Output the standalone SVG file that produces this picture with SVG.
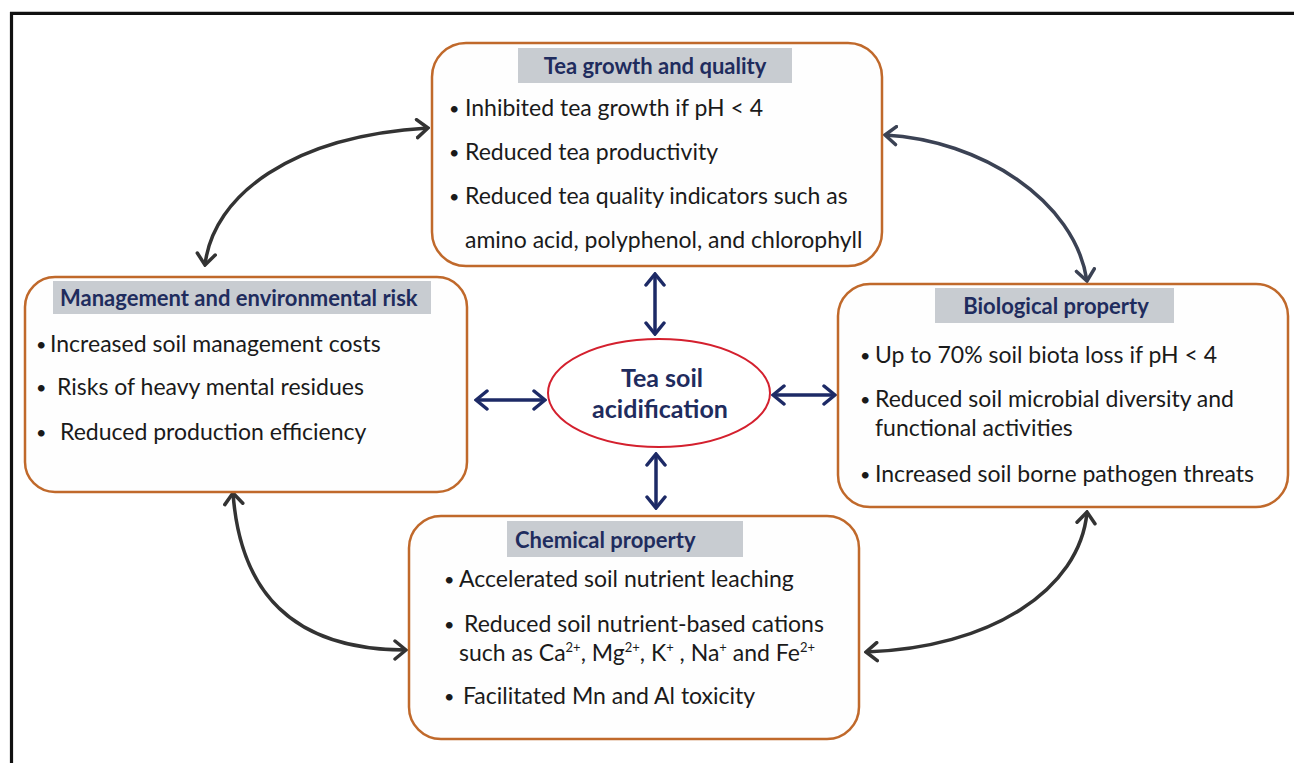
<svg xmlns="http://www.w3.org/2000/svg" width="1294" height="763" viewBox="0 0 1294 763">
  <style>
    .box { fill: #fefefe; stroke: #c0692b; stroke-width: 2.5; }
    .banner { fill: #c8ccd1; }
    .title { font-family: Lato, "Open Sans", sans-serif; font-weight: bold; font-size: 22px; fill: #1f2c5e; }
    .body { font-family: Lato, "Open Sans", sans-serif; font-size: 23px; fill: #1a1a1a; }
    .dot { font-family: Lato, "Open Sans", sans-serif; font-size: 18px; fill: #1a1a1a; }
    .center { font-family: Lato, "Open Sans", sans-serif; font-weight: bold; font-size: 25px; fill: #1f2c5e; text-anchor: middle; }
    .sup { font-size: 13px; }
    .curve { fill: none; stroke: #333333; stroke-width: 3.5; marker-start: url(#headGray); marker-end: url(#headGray); }
    .curve2 { fill: none; stroke: #3b4254; stroke-width: 3.5; marker-start: url(#headSlate); marker-end: url(#headSlate); }
    .link { fill: none; stroke: #1d2a66; stroke-width: 3.5; marker-start: url(#headBlue); marker-end: url(#headBlue); }
  </style>
  <defs>
    <marker id="headGray" markerUnits="userSpaceOnUse" viewBox="-13 -11 15 22" refX="0" refY="0" markerWidth="15" markerHeight="22" orient="auto-start-reverse">
      <path d="M-11,-9 L0,0 L-11,9" fill="none" stroke="#333333" stroke-width="3.5" stroke-linecap="round"/>
    </marker>
    <marker id="headSlate" markerUnits="userSpaceOnUse" viewBox="-13 -11 15 22" refX="0" refY="0" markerWidth="15" markerHeight="22" orient="auto-start-reverse">
      <path d="M-11,-9 L0,0 L-11,9" fill="none" stroke="#3b4254" stroke-width="3.5" stroke-linecap="round"/>
    </marker>
    <marker id="headBlue" markerUnits="userSpaceOnUse" viewBox="-13 -11 15 22" refX="0" refY="0" markerWidth="15" markerHeight="22" orient="auto-start-reverse">
      <path d="M-11,-9 L0,0 L-11,9" fill="none" stroke="#1d2a66" stroke-width="3.5" stroke-linecap="round"/>
    </marker>
  </defs>

  <rect width="1294" height="763" fill="#ffffff"/>
  <!-- outer frame, runs off the right and bottom edges -->
  <path d="M11.5,770 V13.3 H1300" fill="none" stroke="#111111" stroke-width="3.2"/>

  <g id="connectors">
    <path class="curve" d="M205,265 C213,195 292,136 428,128"/>
    <path class="curve2" d="M885,135 C980,140 1075,200 1087,281"/>
    <path class="curve" d="M233,493 C240,590 290,650 406,650"/>
    <path class="curve" d="M1087,512 C1080,590 990,648 866,652"/>
    <path class="link" d="M655,274 V334"/>
    <path class="link" d="M656,454 V508"/>
    <path class="link" d="M476,400 H545"/>
    <path class="link" d="M773,395 H835"/>
  </g>

  <g id="tea-growth">
    <rect class="box" x="432" y="43" width="450" height="223" rx="34"/>
    <rect class="banner" x="518" y="48" width="274" height="35"/>
    <text class="title" x="655" y="74" text-anchor="middle">Tea growth and quality</text>
    <text class="dot" x="449" y="115">•</text>
    <text class="body" x="465" y="116">Inhibited tea growth if pH &lt; 4</text>
    <text class="dot" x="449" y="159">•</text>
    <text class="body" x="465" y="160">Reduced tea productivity</text>
    <text class="dot" x="449" y="203">•</text>
    <text class="body" x="465" y="204">Reduced tea quality indicators such as</text>
    <text class="body" x="465" y="248">amino acid, polyphenol, and chlorophyll</text>
  </g>

  <g id="management-risk">
    <rect class="box" x="25" y="277" width="442" height="215" rx="30"/>
    <rect class="banner" x="53" y="281" width="378" height="33"/>
    <text class="title" x="60" y="306">Management and environmental risk</text>
    <text class="dot" x="36" y="351">•</text>
    <text class="body" x="50" y="352">Increased soil management costs</text>
    <text class="dot" x="36" y="394">•</text>
    <text class="body" x="57" y="395">Risks of heavy mental residues</text>
    <text class="dot" x="36" y="439">•</text>
    <text class="body" x="60" y="440">Reduced production efficiency</text>
  </g>

  <g id="biological-property">
    <rect class="box" x="838" y="284" width="450" height="223" rx="32"/>
    <rect class="banner" x="935" y="288" width="239" height="35"/>
    <text class="title" x="1056" y="314" text-anchor="middle">Biological property</text>
    <text class="dot" x="860" y="362">•</text>
    <text class="body" x="875" y="363">Up to 70% soil biota loss if pH &lt; 4</text>
    <text class="dot" x="860" y="406">•</text>
    <text class="body" x="875" y="407">Reduced soil microbial diversity and</text>
    <text class="body" x="875" y="436">functional activities</text>
    <text class="dot" x="860" y="481">•</text>
    <text class="body" x="875" y="482">Increased soil borne pathogen threats</text>
  </g>

  <g id="chemical-property">
    <rect class="box" x="409" y="516" width="450" height="223" rx="32"/>
    <rect class="banner" x="507" y="521" width="236" height="36"/>
    <text class="title" x="515" y="548">Chemical property</text>
    <text class="dot" x="444" y="586">•</text>
    <text class="body" x="459" y="587">Accelerated soil nutrient leaching</text>
    <text class="dot" x="444" y="631">•</text>
    <text class="body" x="464" y="632">Reduced soil nutrient-based cations</text>
    <text class="body" x="459" y="661">such as Ca<tspan class="sup" dy="-9">2+</tspan><tspan dy="9">, Mg</tspan><tspan class="sup" dy="-9">2+</tspan><tspan dy="9">, K</tspan><tspan class="sup" dy="-9">+</tspan><tspan dy="9"> , Na</tspan><tspan class="sup" dy="-9">+</tspan><tspan dy="9"> and Fe</tspan><tspan class="sup" dy="-9">2+</tspan></text>
    <text class="dot" x="444" y="703">•</text>
    <text class="body" x="463" y="704">Facilitated Mn and Al toxicity</text>
  </g>

  <g id="tea-soil-acidification">
    <ellipse cx="659" cy="393" rx="111" ry="54" fill="#ffffff" stroke="#d4202e" stroke-width="2"/>
    <text class="center" x="662" y="387">Tea soil</text>
    <text class="center" x="660" y="418">acidification</text>
  </g>
</svg>
